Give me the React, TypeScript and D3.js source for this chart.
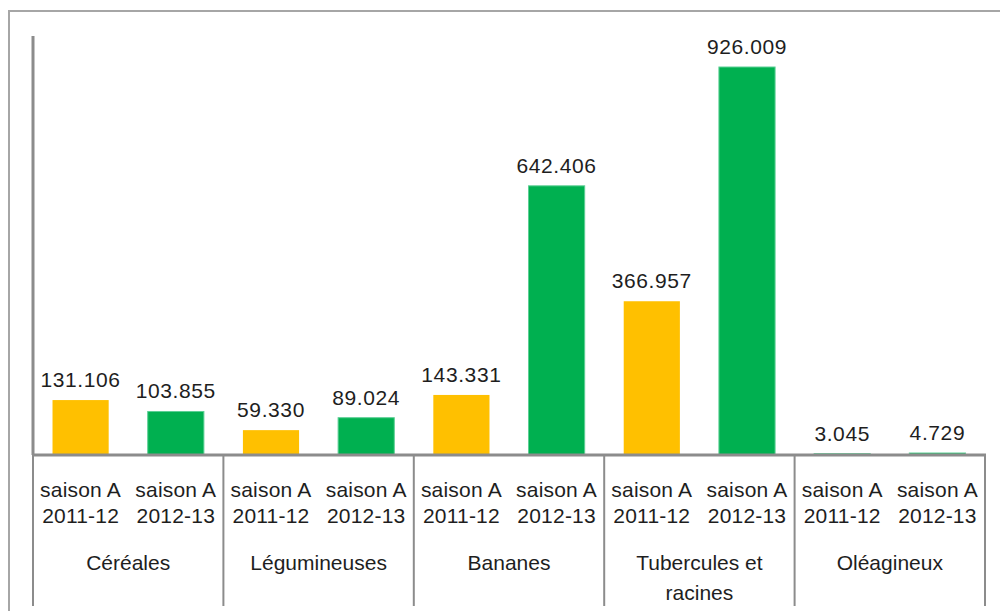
import React from "react";
import * as d3 from "d3";

const categories = ["Céréales", "Légumineuses", "Bananes", "Tubercules et racines", "Oléagineux"];
const categoryLines = [["Céréales"], ["Légumineuses"], ["Bananes"], ["Tubercules et", "racines"], ["Oléagineux"]];
const seasons = ["saison A 2011-12", "saison A 2012-13"];
const seasonLines = [["saison A", "2011-12"], ["saison A", "2012-13"]];
const values2011 = [131.106, 59.33, 143.331, 366.957, 3.045];
const values2012 = [103.855, 89.024, 642.406, 926.009, 4.729];
const valueLabels2011 = ["131.106", "59.330", "143.331", "366.957", "3.045"];
const valueLabels2012 = ["103.855", "89.024", "642.406", "926.009", "4.729"];
const yDomain = [0, 1000];

const YELLOW = "#FFC000";
const GREEN = "#00B050";
const GREEN_EDGE = "#5ccf95";
const AXIS = "#8c8c8c";
const FONT = "'Liberation Sans', Arial, sans-serif";

export default function App() {
  const W = 1000, H = 611;
  const left = 33, right = 985, base = 455, top = 36;
  const x = d3.scaleBand<string>().domain(categories).range([left, right]).padding(0);
  const xi = d3.scaleBand<string>().domain(seasons).range([0, x.bandwidth()]).paddingInner(0.41).paddingOuter(0.205);
  const y = d3.scaleLinear().domain(yDomain).range([base, top]);

  const bars: { cat: string; s: string; v: number; label: string; color: string }[] = [];
  categories.forEach((c, i) => {
    bars.push({ cat: c, s: seasons[0], v: values2011[i], label: valueLabels2011[i], color: i === 4 ? GREEN : YELLOW });
    bars.push({ cat: c, s: seasons[1], v: values2012[i], label: valueLabels2012[i], color: GREEN });
  });

  return (
    <svg width={W} height={H} style={{ position: "absolute", left: 0, top: 0, background: "#fff" }} fontFamily={FONT}>
      <rect x={0} y={0} width={W} height={H} fill="#fff" />
      {/* outer frame */}
      <line x1={8.5} x2={W} y1={11} y2={11} stroke="#a6a6a6" strokeWidth={2} />
      <line x1={9} x2={9} y1={10} y2={H} stroke="#a6a6a6" strokeWidth={2} />
      {/* bars */}
      {bars.map((b, i) => {
        const bx = (x(b.cat) as number) + (xi(b.s) as number);
        const by = y(b.v);
        const cx = bx + xi.bandwidth() / 2;
        const isGreen = b.color === GREEN;
        return (
          <g key={i}>
            <rect x={bx} y={by} width={xi.bandwidth()} height={base - by} fill={b.color}
              stroke={isGreen ? GREEN_EDGE : "none"} strokeWidth={isGreen ? 1 : 0} />
            <text x={cx} y={by - 13} textAnchor="middle" fontSize={21} letterSpacing={0.6} fill="#1e1e1e">{b.label}</text>
          </g>
        );
      })}
      {/* y axis */}
      <line x1={left} x2={left} y1={top} y2={base} stroke={AXIS} strokeWidth={3} />
      {/* baseline */}
      <line x1={left - 1} x2={right + 1} y1={base} y2={base} stroke={AXIS} strokeWidth={3} />
      {/* dividers */}
      {[...categories.map((c) => x(c) as number), right].map((dx, i) => (
        <line key={i} x1={dx} x2={dx} y1={base} y2={606} stroke={AXIS} strokeWidth={2} />
      ))}
      {/* tick labels */}
      {categories.map((c, ci) => (
        <g key={c}>
          {seasons.map((s, si) => {
            const cx = (x(c) as number) + (xi(s) as number) + xi.bandwidth() / 2;
            return (
              <text key={s} x={cx} textAnchor="middle" fontSize={21} letterSpacing={0.2} fill="#1e1e1e">
                <tspan x={cx} y={497}>{seasonLines[si][0]}</tspan>
                <tspan x={cx} y={523}>{seasonLines[si][1]}</tspan>
              </text>
            );
          })}
          <text textAnchor="middle" fontSize={21} letterSpacing={0} fill="#1e1e1e">
            {categoryLines[ci].map((l, li) => (
              <tspan key={li} x={(x(c) as number) + x.bandwidth() / 2} y={570 + li * 30}>{l}</tspan>
            ))}
          </text>
        </g>
      ))}
    </svg>
  );
}
